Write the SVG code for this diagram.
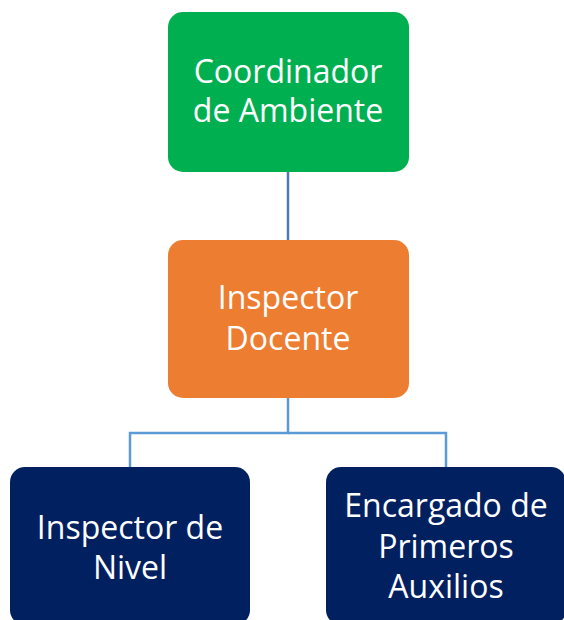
<svg xmlns="http://www.w3.org/2000/svg" width="564" height="620" viewBox="0 0 564 620">
<style>
.box{stroke:none}
.t{font-family:"Open Sans","Liberation Sans",sans-serif;font-size:32px;fill:#ffffff;text-anchor:middle}
.c{fill:none;stroke-width:2.5}
</style>
<rect width="564" height="620" fill="#ffffff"/>
<g id="connectors">
<line class="c" x1="288" y1="171" x2="288" y2="240" stroke="#4F7BB0"/>
<polyline class="c" points="288,398 288,433 130,433 130,467" stroke="#5B9BD5"/>
<polyline class="c" points="288,433 446,433 446,467" stroke="#5B9BD5"/>
</g>
<g id="coordinador">
<rect class="box" x="168" y="12" width="241" height="160" rx="15" fill="#00B050"/>
<text class="t" x="288" y="83">Coordinador</text>
<text class="t" x="288" y="122">de Ambiente</text>
</g>
<g id="inspector-docente">
<rect class="box" x="168" y="240" width="241" height="158" rx="15" fill="#ED7D31"/>
<text class="t" x="288" y="309">Inspector</text>
<text class="t" x="288" y="350">Docente</text>
</g>
<g id="inspector-nivel">
<rect class="box" x="10" y="467" width="240" height="158" rx="15" fill="#002060"/>
<text class="t" x="130" y="539">Inspector de</text>
<text class="t" x="130" y="579">Nivel</text>
</g>
<g id="primeros-auxilios">
<rect class="box" x="326" y="467" width="240" height="158" rx="15" fill="#002060"/>
<text class="t" x="446" y="517">Encargado de</text>
<text class="t" x="446" y="558">Primeros</text>
<text class="t" x="446" y="598">Auxilios</text>
</g>
</svg>
